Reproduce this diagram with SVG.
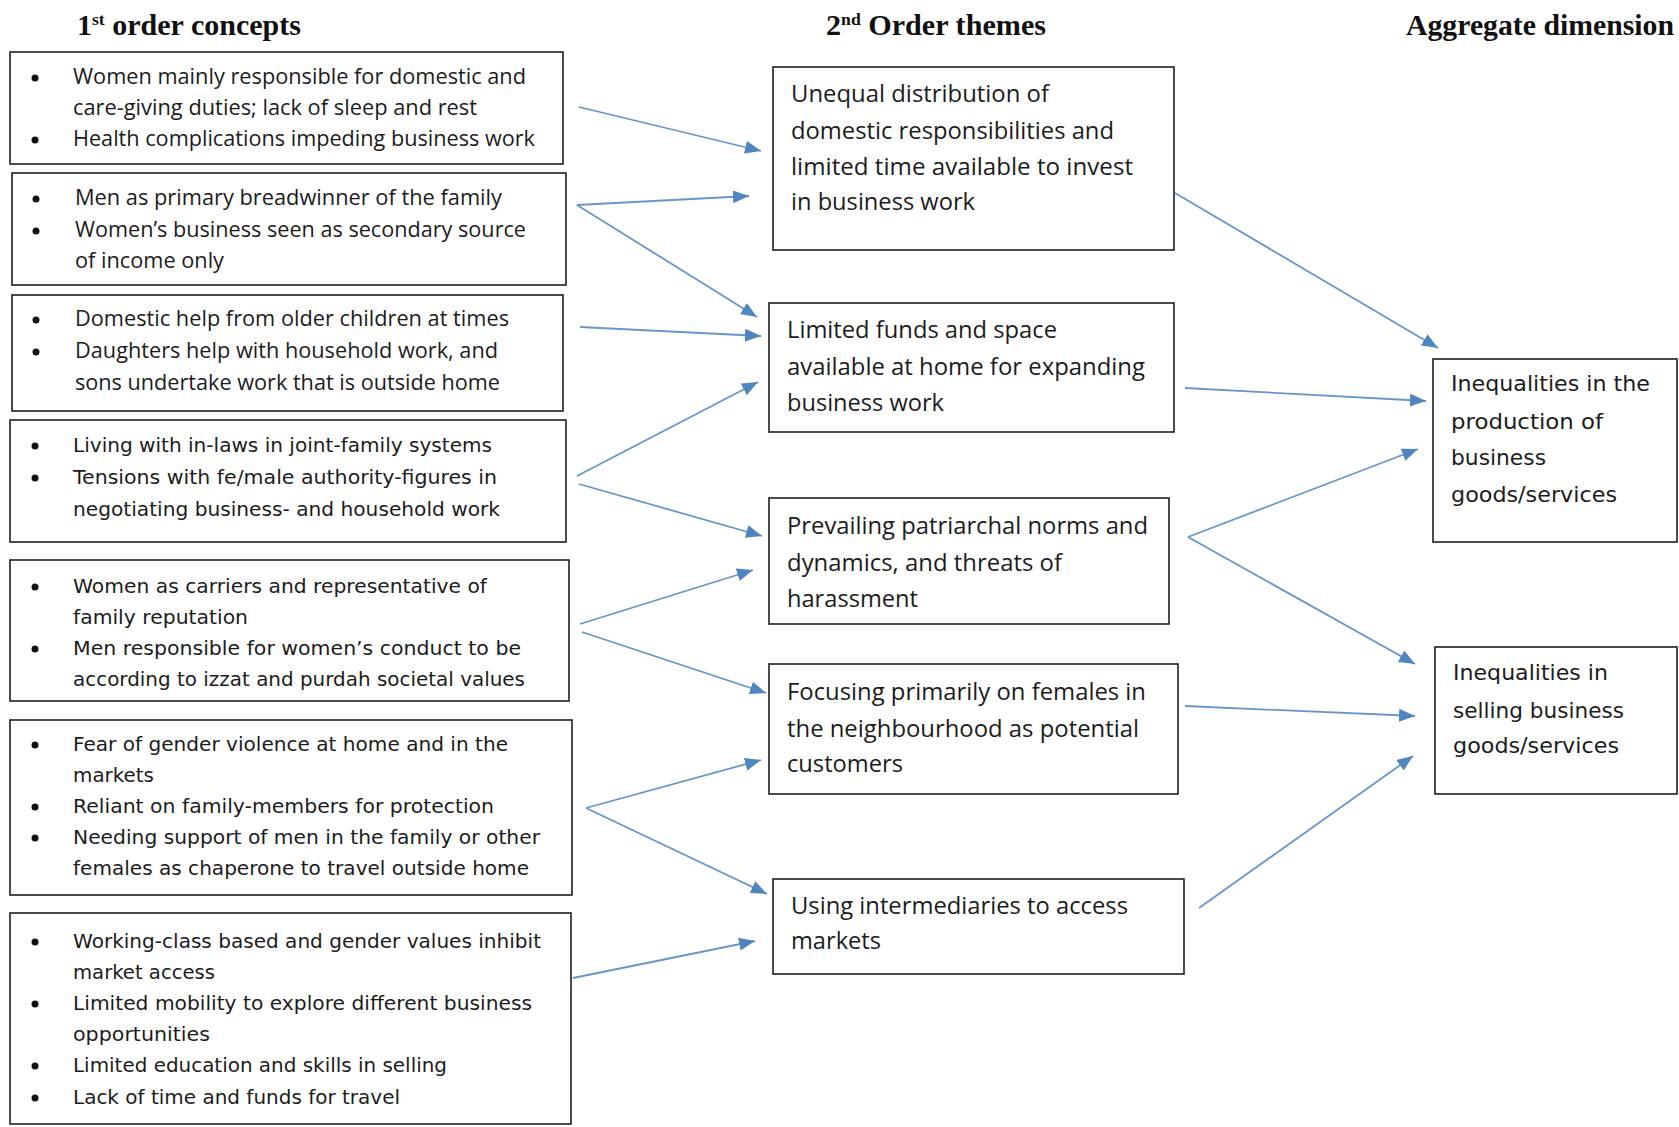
<svg xmlns="http://www.w3.org/2000/svg" width="1679" height="1127" viewBox="0 0 1679 1127">
<defs>
<marker id="ah" markerUnits="userSpaceOnUse" markerWidth="17" markerHeight="14" refX="16" refY="7" orient="auto">
<path d="M0,0.5 L16,7 L0,13.5 z" fill="#4f86c0"/>
</marker>
<style>
.box{fill:#fff;stroke:#1e1e1e;stroke-width:1.6}
.ttl{font-family:"Liberation Serif","Times New Roman",serif;font-weight:bold;font-size:29px;fill:#111}
.sup{font-size:17px}
.t1{font-family:"Open Sans","Liberation Sans",sans-serif;font-size:21px;fill:#1c1c1c}
.t2{font-family:"DejaVu Sans","Liberation Sans",sans-serif;font-size:20px;fill:#1c1c1c}
.tm{font-family:"Open Sans","Liberation Sans",sans-serif;font-size:24px;fill:#1c1c1c}
.tr{font-family:"DejaVu Sans","Liberation Sans",sans-serif;font-size:21px;fill:#1c1c1c}
.bul{fill:#111}
.con line{stroke:#6796c8;stroke-width:1.8;fill:none;marker-end:url(#ah)}
</style>
</defs>
<rect width="1679" height="1127" fill="#fff"/>

<g id="titles">
<text class="ttl" x="77" y="35" textLength="224" lengthAdjust="spacingAndGlyphs">1<tspan class="sup" dy="-10">st</tspan><tspan dy="10"> order concepts</tspan></text>
<text class="ttl" x="826" y="35" textLength="220" lengthAdjust="spacingAndGlyphs">2<tspan class="sup" dy="-10">nd</tspan><tspan dy="10"> Order themes</tspan></text>
<text class="ttl" x="1406" y="35" textLength="268" lengthAdjust="spacingAndGlyphs">Aggregate dimension</text>
</g>

<g id="b1">
<rect class="box" x="10" y="52" width="553" height="112"/>
<circle class="bul" cx="35" cy="78" r="3.5"/><circle class="bul" cx="35" cy="140" r="3.5"/>
<text class="t1" x="73" y="84" textLength="453" lengthAdjust="spacingAndGlyphs">Women mainly responsible for domestic and</text>
<text class="t1" x="73" y="115" textLength="404" lengthAdjust="spacingAndGlyphs">care-giving duties; lack of sleep and rest</text>
<text class="t1" x="73" y="146" textLength="462" lengthAdjust="spacingAndGlyphs">Health complications impeding business work</text>
</g>

<g id="b2">
<rect class="box" x="12" y="173" width="554" height="112"/>
<circle class="bul" cx="36" cy="199" r="3.5"/><circle class="bul" cx="36" cy="231" r="3.5"/>
<text class="t1" x="75" y="205" textLength="427" lengthAdjust="spacingAndGlyphs">Men as primary breadwinner of the family</text>
<text class="t1" x="75" y="237" textLength="451" lengthAdjust="spacingAndGlyphs">Women’s business seen as secondary source</text>
<text class="t1" x="75" y="268" textLength="149" lengthAdjust="spacingAndGlyphs">of income only</text>
</g>

<g id="b3">
<rect class="box" x="12" y="295" width="551" height="116"/>
<circle class="bul" cx="36" cy="320" r="3.5"/><circle class="bul" cx="36" cy="352" r="3.5"/>
<text class="t1" x="75" y="326" textLength="434" lengthAdjust="spacingAndGlyphs">Domestic help from older children at times</text>
<text class="t1" x="75" y="358" textLength="423" lengthAdjust="spacingAndGlyphs">Daughters help with household work, and</text>
<text class="t1" x="75" y="390" textLength="425" lengthAdjust="spacingAndGlyphs">sons undertake work that is outside home</text>
</g>

<g id="b4">
<rect class="box" x="10" y="420" width="556" height="122"/>
<circle class="bul" cx="35" cy="446" r="3.5"/><circle class="bul" cx="35" cy="478" r="3.5"/>
<text class="t2" x="73" y="452" textLength="419" lengthAdjust="spacingAndGlyphs">Living with in-laws in joint-family systems</text>
<text class="t2" x="73" y="484" textLength="424" lengthAdjust="spacingAndGlyphs">Tensions with fe/male authority-figures in</text>
<text class="t2" x="73" y="516" textLength="427" lengthAdjust="spacingAndGlyphs">negotiating business- and household work</text>
</g>

<g id="b5">
<rect class="box" x="10" y="560" width="559" height="141"/>
<circle class="bul" cx="35" cy="587" r="3.5"/><circle class="bul" cx="35" cy="649" r="3.5"/>
<text class="t2" x="73" y="593" textLength="414" lengthAdjust="spacingAndGlyphs">Women as carriers and representative of</text>
<text class="t2" x="73" y="624" textLength="175" lengthAdjust="spacingAndGlyphs">family reputation</text>
<text class="t2" x="73" y="655" textLength="448" lengthAdjust="spacingAndGlyphs">Men responsible for women’s conduct to be</text>
<text class="t2" x="73" y="686" textLength="452" lengthAdjust="spacingAndGlyphs">according to izzat and purdah societal values</text>
</g>

<g id="b6">
<rect class="box" x="10" y="720" width="562" height="175"/>
<circle class="bul" cx="35" cy="745" r="3.5"/><circle class="bul" cx="35" cy="807" r="3.5"/><circle class="bul" cx="35" cy="838" r="3.5"/>
<text class="t2" x="73" y="751" textLength="435" lengthAdjust="spacingAndGlyphs">Fear of gender violence at home and in the</text>
<text class="t2" x="73" y="782" textLength="81" lengthAdjust="spacingAndGlyphs">markets</text>
<text class="t2" x="73" y="813" textLength="421" lengthAdjust="spacingAndGlyphs">Reliant on family-members for protection</text>
<text class="t2" x="73" y="844" textLength="467" lengthAdjust="spacingAndGlyphs">Needing support of men in the family or other</text>
<text class="t2" x="73" y="875" textLength="456" lengthAdjust="spacingAndGlyphs">females as chaperone to travel outside home</text>
</g>

<g id="b7">
<rect class="box" x="10" y="913" width="561" height="211"/>
<circle class="bul" cx="35" cy="942" r="3.5"/><circle class="bul" cx="35" cy="1004" r="3.5"/><circle class="bul" cx="35" cy="1066" r="3.5"/><circle class="bul" cx="35" cy="1098" r="3.5"/>
<text class="t2" x="73" y="948" textLength="468" lengthAdjust="spacingAndGlyphs">Working-class based and gender values inhibit</text>
<text class="t2" x="73" y="979" textLength="142" lengthAdjust="spacingAndGlyphs">market access</text>
<text class="t2" x="73" y="1010" textLength="459" lengthAdjust="spacingAndGlyphs">Limited mobility to explore different business</text>
<text class="t2" x="73" y="1041" textLength="137" lengthAdjust="spacingAndGlyphs">opportunities</text>
<text class="t2" x="73" y="1072" textLength="374" lengthAdjust="spacingAndGlyphs">Limited education and skills in selling</text>
<text class="t2" x="73" y="1104" textLength="327" lengthAdjust="spacingAndGlyphs">Lack of time and funds for travel</text>
</g>

<g id="m1">
<rect class="box" x="773" y="67" width="401" height="183"/>
<text class="tm" x="791" y="102" textLength="258" lengthAdjust="spacingAndGlyphs">Unequal distribution of</text>
<text class="tm" x="791" y="139" textLength="323" lengthAdjust="spacingAndGlyphs">domestic responsibilities and</text>
<text class="tm" x="791" y="175" textLength="342" lengthAdjust="spacingAndGlyphs">limited time available to invest</text>
<text class="tm" x="791" y="210" textLength="184" lengthAdjust="spacingAndGlyphs">in business work</text>
</g>

<g id="m2">
<rect class="box" x="769" y="303" width="405" height="129"/>
<text class="tm" x="787" y="338" textLength="270" lengthAdjust="spacingAndGlyphs">Limited funds and space</text>
<text class="tm" x="787" y="375" textLength="358" lengthAdjust="spacingAndGlyphs">available at home for expanding</text>
<text class="tm" x="787" y="411" textLength="157" lengthAdjust="spacingAndGlyphs">business work</text>
</g>

<g id="m3">
<rect class="box" x="769" y="498" width="400" height="126"/>
<text class="tm" x="787" y="534" textLength="361" lengthAdjust="spacingAndGlyphs">Prevailing patriarchal norms and</text>
<text class="tm" x="787" y="571" textLength="275" lengthAdjust="spacingAndGlyphs">dynamics, and threats of</text>
<text class="tm" x="787" y="607" textLength="131" lengthAdjust="spacingAndGlyphs">harassment</text>
</g>

<g id="m4">
<rect class="box" x="769" y="664" width="409" height="130"/>
<text class="tm" x="787" y="700" textLength="359" lengthAdjust="spacingAndGlyphs">Focusing primarily on females in</text>
<text class="tm" x="787" y="737" textLength="352" lengthAdjust="spacingAndGlyphs">the neighbourhood as potential</text>
<text class="tm" x="787" y="772" textLength="116" lengthAdjust="spacingAndGlyphs">customers</text>
</g>

<g id="m5">
<rect class="box" x="773" y="879" width="411" height="95"/>
<text class="tm" x="791" y="914" textLength="337" lengthAdjust="spacingAndGlyphs">Using intermediaries to access</text>
<text class="tm" x="791" y="949" textLength="90" lengthAdjust="spacingAndGlyphs">markets</text>
</g>

<g id="r1">
<rect class="box" x="1433" y="359" width="244" height="183"/>
<text class="tr" x="1451" y="391" textLength="199" lengthAdjust="spacingAndGlyphs">Inequalities in the</text>
<text class="tr" x="1451" y="429" textLength="152" lengthAdjust="spacingAndGlyphs">production of</text>
<text class="tr" x="1451" y="465" textLength="95" lengthAdjust="spacingAndGlyphs">business</text>
<text class="tr" x="1451" y="502" textLength="166" lengthAdjust="spacingAndGlyphs">goods/services</text>
</g>

<g id="r2">
<rect class="box" x="1435" y="647" width="242" height="147"/>
<text class="tr" x="1453" y="680" textLength="155" lengthAdjust="spacingAndGlyphs">Inequalities in</text>
<text class="tr" x="1453" y="718" textLength="171" lengthAdjust="spacingAndGlyphs">selling business</text>
<text class="tr" x="1453" y="753" textLength="166" lengthAdjust="spacingAndGlyphs">goods/services</text>
</g>

<g id="connectors" class="con">
<line x1="579" y1="107" x2="761" y2="151"/>
<line x1="577" y1="205" x2="749" y2="196"/>
<line x1="577" y1="205" x2="757" y2="317"/>
<line x1="580" y1="327" x2="761" y2="336"/>
<line x1="577" y1="476" x2="758" y2="382"/>
<line x1="579" y1="484" x2="762" y2="536"/>
<line x1="580" y1="624" x2="753" y2="570"/>
<line x1="582" y1="632" x2="766" y2="693"/>
<line x1="586" y1="808" x2="761" y2="760"/>
<line x1="586" y1="808" x2="767" y2="894"/>
<line x1="573" y1="978" x2="755" y2="941"/>
<line x1="1175" y1="193" x2="1438" y2="348"/>
<line x1="1185" y1="388" x2="1426" y2="401"/>
<line x1="1188" y1="537" x2="1418" y2="449"/>
<line x1="1188" y1="537" x2="1415" y2="664"/>
<line x1="1185" y1="706" x2="1415" y2="716"/>
<line x1="1199" y1="908" x2="1413" y2="756"/>
</g>
</svg>
